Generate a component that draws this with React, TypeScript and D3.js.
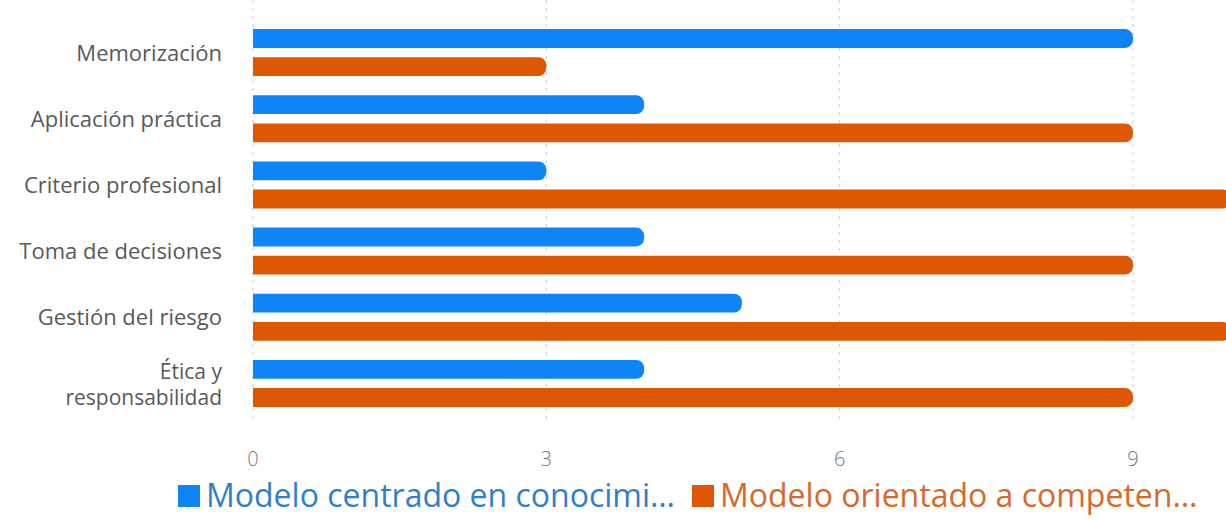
import React from "react";
import * as d3 from "d3";

const categories = [
  "Memorización",
  "Aplicación práctica",
  "Criterio profesional",
  "Toma de decisiones",
  "Gestión del riesgo",
  "Ética y responsabilidad",
];
const seriesNames = [
  "Modelo centrado en conocimi…",
  "Modelo orientado a competen…",
];
const knowledgeValues = [9, 4, 3, 4, 5, 4];
const competencyValues = [3, 9, 10, 9, 10, 9];
const xTicks = [0, 3, 6, 9];
const colors = ["#0f84f6", "#de5703"];
const legendTextColors = ["#2f7fca", "#d66a2a"];

const W = 1226;
const H = 520;
const FONT = "'Open Sans', 'Noto Sans', sans-serif";

// rectangle with a square left edge and a rounded right end
function barPath(x0: number, x1: number, y: number, h: number, r: number) {
  const rr = Math.min(r, (x1 - x0) / 2, h / 2);
  return `M${x0},${y}H${x1 - rr}A${rr},${rr} 0 0 1 ${x1},${y + rr}V${y + h - rr}A${rr},${rr} 0 0 1 ${x1 - rr},${y + h}H${x0}Z`;
}

export default function App() {
  const x = d3.scaleLinear().domain([0, 9]).range([253, 1133]);
  const y = d3.scaleBand<string>().domain(categories).range([19.5, 416.5]).paddingInner(0).paddingOuter(0);
  const inner = d3.scaleBand<number>().domain([0, 1]).range([0, y.bandwidth()]).paddingInner(0.33).paddingOuter(0.34);
  const series = [knowledgeValues, competencyValues];

  const labelLines = (c: string) => (c === "Ética y responsabilidad" ? ["Ética y", "responsabilidad"] : [c]);

  return (
    <svg width={W} height={H} style={{ position: "absolute", left: 0, top: 0, background: "#fff" }} fontFamily={FONT}>
      {/* vertical dotted grid */}
      {xTicks.map((t) => (
        <line key={t} x1={x(t)} x2={x(t)} y1={0} y2={424} stroke="#c5cbd6" strokeWidth={1} strokeDasharray="3,5" />
      ))}
      {/* bars */}
      {categories.map((c, i) => (
        <g key={c}>
          {series.map((vals, s) => (
            <path
              key={s}
              d={barPath(x(0), x(vals[i]), (y(c) as number) + (inner(s) as number), inner.bandwidth(), 8)}
              fill={colors[s]}
            />
          ))}
        </g>
      ))}
      {/* category labels; the long one wraps onto two lines */}
      {categories.map((c) => {
        const lines = labelLines(c);
        const cy = (y(c) as number) + y.bandwidth() / 2;
        const lineH = 26;
        return (
          <text key={c} x={222} textAnchor="end" fontSize={lines.length > 1 ? 21 : 22} fill="#595959" fontWeight={400}>
            {lines.map((l, k) => (
              <tspan key={k} x={222} y={cy + 8 + (lines.length > 1 ? 1 : 0) + (k - (lines.length - 1) / 2) * lineH}>
                {l}
              </tspan>
            ))}
          </text>
        );
      })}
      {/* x tick labels */}
      {xTicks.map((t) => (
        <text key={t} x={x(t)} y={466} textAnchor="middle" fontSize={20} fill="#777" fontWeight={300}>
          {t}
        </text>
      ))}
      {/* legend */}
      {[178, 692].map((lx, s) => (
        <g key={s}>
          <rect x={lx} y={485} width={22} height={22} fill={colors[s]} />
          <text x={lx + 28} y={507} fontSize={32} fill={legendTextColors[s]}>
            {seriesNames[s]}
          </text>
        </g>
      ))}
    </svg>
  );
}
